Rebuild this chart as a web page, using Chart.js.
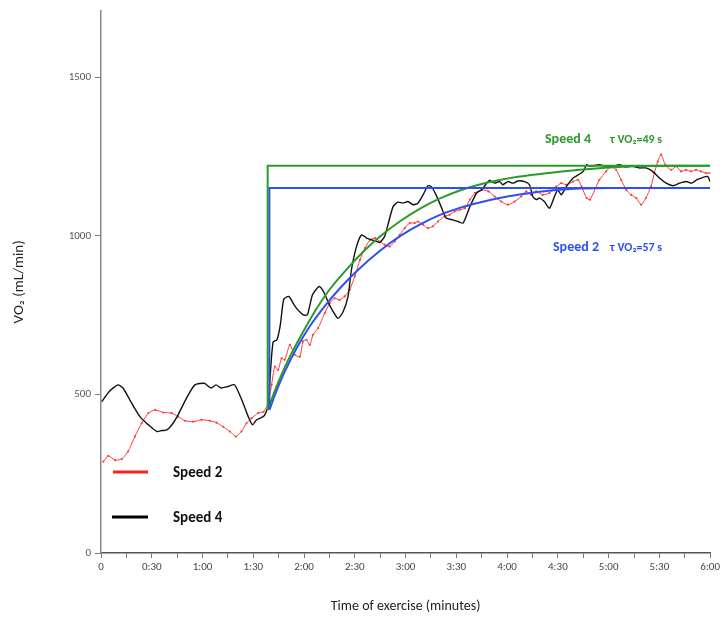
<!DOCTYPE html>
<html>
<head>
<meta charset="utf-8">
<script src="https://cdn.jsdelivr.net/npm/chart.js@4.4.1/dist/chart.umd.min.js"></script>
<style>
  html, body { margin: 0; padding: 0; background: #fff; }
  #wrap { width: 723px; height: 623px; }
</style>
</head>
<body>
<div id="wrap"><canvas id="c" width="723" height="623"></canvas></div>
<script>
// time in seconds from start of exercise
const speed2Time = [1.4, 4.3, 8.3, 12.2, 16, 20, 24, 28, 32, 36.8, 41.7, 45.6, 49.6, 54.5, 59.4, 64.3, 68.3, 72.2, 76.2, 79.7, 83, 86, 89, 92.9, 96, 98.8, 100.8, 102.7, 104.7, 106.7, 108.6, 111.6, 114.5, 117.5, 119.4, 121.4, 123.4, 125.3, 128.3, 132.2, 135.2, 138.1, 141, 144, 147, 150, 153, 156, 159, 162, 164.7, 167.6, 170.6, 173.6, 176.5, 179.5, 182.4, 185.4, 187.3, 190.3, 193.2, 196.2, 199.1, 203, 206, 209, 212, 215, 218, 221, 225, 229, 232.6, 236.5, 240.4, 244.4, 248.3, 251.3, 254.2, 257.2, 261, 265, 269, 272, 275, 279, 282, 284, 287, 289, 294.5, 298.5, 301.5, 304.4, 307.4, 310.4, 313.3, 316.3, 319.2, 322, 325, 327, 329, 331, 333.5, 337, 340, 342.8, 345.8, 348.7, 351.6, 354.6, 357.5, 360]
const speed2VO2 = [288, 306, 293, 296, 320, 367, 409, 441, 451, 443, 441, 430, 417, 414, 420, 417, 411, 398, 383, 367, 383, 409, 425, 441, 445, 472, 530, 588, 577, 614, 609, 656, 625, 619, 667, 672, 656, 688, 709, 756, 788, 803, 798, 809, 830, 872, 924, 961, 987, 993, 982, 972, 966, 982, 1003, 1024, 1040, 1040, 1045, 1035, 1024, 1030, 1045, 1061, 1066, 1077, 1082, 1087, 1114, 1135, 1145, 1140, 1124, 1108, 1098, 1108, 1124, 1140, 1129, 1140, 1129, 1135, 1155, 1166, 1161, 1171, 1176, 1155, 1119, 1114, 1176, 1203, 1219, 1208, 1176, 1145, 1129, 1119, 1098, 1119, 1155, 1198, 1234, 1256, 1224, 1208, 1219, 1203, 1208, 1203, 1208, 1203, 1198, 1198]

const speed4Time = [0.4, 5, 10, 13, 17, 20, 23, 28, 33, 36, 39, 42, 45, 51, 55.5, 61, 65, 68, 71, 75, 79, 84, 87, 89.5, 92, 96, 98, 99, 100, 101.7, 104, 106, 108, 111, 115, 119.5, 122, 125, 129, 132, 135, 140, 143, 146, 148, 151, 154, 157, 160, 163, 164.7, 167.6, 169.6, 172.6, 175.5, 178.5, 181.4, 184.4, 187.3, 190.3, 193.2, 195.2, 198, 201, 204, 208, 211, 214, 218, 222, 225, 228, 229.6, 232.6, 235.5, 237.5, 240.4, 243.4, 246.3, 250.3, 253.2, 255.2, 257.2, 259.2, 262, 265, 268, 270, 272, 275, 279, 282, 285, 287, 289, 294.5, 298.5, 302.4, 306.4, 310, 314, 318, 322, 326, 330, 334, 338, 342, 346, 349, 352, 354.6, 358.5, 360]
const speed4VO2 = [477, 510, 530, 520, 483, 455, 430, 404, 383, 386, 388, 405, 430, 493, 530, 535, 520, 530, 520, 525, 530, 472, 430, 404, 420, 430, 450, 470, 560, 665, 672, 720, 800, 809, 775, 751, 751, 814, 840, 819, 782, 740, 760, 809, 893, 966, 1003, 993, 987, 982, 979, 998, 1035, 1092, 1106, 1103, 1108, 1098, 1103, 1129, 1158, 1155, 1129, 1092, 1056, 1050, 1045, 1040, 1092, 1135, 1145, 1166, 1175, 1166, 1171, 1161, 1171, 1166, 1173, 1171, 1161, 1124, 1114, 1119, 1108, 1087, 1124, 1145, 1129, 1155, 1182, 1192, 1203, 1224, 1219, 1224, 1219, 1219, 1224, 1217, 1219, 1214, 1214, 1203, 1182, 1166, 1158, 1166, 1171, 1166, 1176, 1182, 1187, 1171]

// fitted mono-exponential curves as drawn
const fit4Time = [98.5, 103, 109.6, 119.4, 127, 135, 147, 156, 164.7, 176.5, 188.3, 200, 212, 223.8, 235.5, 247.3, 259.2, 271, 283, 294.5, 306, 320, 340, 360]
const fit4VO2 = [451, 515, 597, 697, 767, 830, 905, 955, 997, 1045, 1085, 1117, 1143, 1162, 1176, 1187, 1195, 1202, 1208, 1213, 1217, 1220, 1221, 1221]
const fit2Time = [99.5, 104, 108.6, 115.5, 123.4, 133.2, 143, 152, 164.7, 176.5, 188.3, 200, 212, 223.8, 235.5, 247.3, 259.2, 271, 283, 300, 330, 360]
const fit2VO2 = [451, 515, 572, 645, 715, 785, 845, 893, 952, 998, 1035, 1065, 1088, 1105, 1119, 1130, 1139, 1145, 1149, 1151, 1151, 1151]

// step (steady-state amplitude) lines
const step4Time = [98.5, 98.5, 360]
const step4VO2 = [451, 1221, 1221]
const step2Time = [99.5, 99.5, 360]
const step2VO2 = [451, 1151, 1151]

const yTicks = [0, 500, 1000, 1500]
const xTicks = [0, 15, 30, 45, 60, 75, 90, 105, 120, 135, 150, 165, 180, 195, 210, 225, 240, 255, 270, 285, 300, 315, 330, 345, 360]
const xLabelTimes = [0, 30, 60, 90, 120, 150, 180, 210, 240, 270, 300, 330, 360]
const xLabels = ["0", "0:30", "1:00", "1:30", "2:00", "2:30", "3:00", "3:30", "4:00", "4:30", "5:00", "5:30", "6:00"]

const pts = (xs, ys) => xs.map((x, i) => ({ x, y: ys[i] }))
const FONT = "Carlito, Lato, 'Open Sans', sans-serif"
const GREEN = "#2b9a2b"
const BLUE = "#2f4ff5"

const overlay = {
  id: "overlay",
  afterDatasetsDraw(chart) {
    const ctx = chart.ctx
    ctx.save()
    ctx.textBaseline = "middle"
    // legend
    ctx.lineWidth = 3
    ctx.strokeStyle = "#ff2020"
    ctx.beginPath(); ctx.moveTo(113, 472); ctx.lineTo(148, 472); ctx.stroke()
    ctx.strokeStyle = "#000"
    ctx.beginPath(); ctx.moveTo(112, 517); ctx.lineTo(148, 517); ctx.stroke()
    ctx.fillStyle = "#111"
    ctx.font = "bold 15px " + FONT
    ctx.fillText("Speed 2", 173, 473)
    ctx.fillText("Speed 4", 173, 518)
    // tau annotations
    ctx.fillStyle = GREEN
    ctx.font = "bold 14px " + FONT
    ctx.fillText("Speed 4", 545, 139)
    ctx.font = "bold 12px " + FONT
    ctx.fillText("τ VO₂=49 s", 610, 140)
    ctx.fillStyle = BLUE
    ctx.font = "bold 14px " + FONT
    ctx.fillText("Speed 2", 553, 247)
    ctx.font = "bold 12px " + FONT
    ctx.fillText("τ VO₂=57 s", 610, 248)
    ctx.restore()
  }
}

new Chart(document.getElementById("c"), {
  type: "line",
  data: {
    datasets: [
      { label: "step4", data: pts(step4Time, step4VO2), borderColor: GREEN, borderWidth: 2, pointRadius: 0, tension: 0 },
      { label: "step2", data: pts(step2Time, step2VO2), borderColor: BLUE, borderWidth: 2, pointRadius: 0, tension: 0 },
      { label: "fit4", data: pts(fit4Time, fit4VO2), borderColor: GREEN, borderWidth: 2, pointRadius: 0, cubicInterpolationMode: "monotone" },
      { label: "fit2", data: pts(fit2Time, fit2VO2), borderColor: BLUE, borderWidth: 2, pointRadius: 0, cubicInterpolationMode: "monotone" },
      { label: "Speed 4", data: pts(speed4Time, speed4VO2), borderColor: "#111", borderWidth: 1.4, pointRadius: 0, tension: 0.2 },
      { label: "Speed 2", data: pts(speed2Time, speed2VO2), borderColor: "#ff3b3b", backgroundColor: "#ff3b3b", borderWidth: 1, pointRadius: 1.1, pointBorderWidth: 0, tension: 0.2 }
    ]
  },
  options: {
    responsive: false,
    animation: false,
    layout: { padding: { top: 10, right: 12, left: 0, bottom: 0 } },
    plugins: { legend: { display: false }, tooltip: { enabled: false } },
    scales: {
      x: {
        type: "linear",
        min: 0,
        max: 360,
        afterBuildTicks: (s) => { s.ticks = xTicks.map(v => ({ value: v })) },
        afterFit: (s) => { s.height = 70 },
        ticks: {
          autoSkip: false,
          maxRotation: 0,
          padding: 3,
          color: "#444",
          font: { family: FONT, size: 11 },
          callback: (v) => {
            const i = xLabelTimes.indexOf(v)
            return i >= 0 ? xLabels[i] : ""
          }
        },
        grid: { drawOnChartArea: false, tickLength: 5, color: "#777" },
        border: { color: "#555", width: 1.5 },
        title: { display: true, text: "Time of exercise (minutes)", color: "#222", font: { family: FONT, size: 14 }, padding: { top: 0, bottom: 8 } }
      },
      y: {
        min: 0,
        max: 1710,
        afterBuildTicks: (s) => { s.ticks = yTicks.map(v => ({ value: v })) },
        afterFit: (s) => { s.width = 101 },
        ticks: { color: "#555", padding: 4, font: { family: FONT, size: 11 }, callback: (v) => String(v) },
        grid: { drawOnChartArea: false, tickLength: 6, color: "#777" },
        border: { color: "#888", width: 1.5 },
        title: { display: true, text: "VO₂ (mL/min)", color: "#222", font: { family: FONT, size: 15 }, padding: { top: 10, bottom: 0 } }
      }
    }
  },
  plugins: [overlay]
})
</script>
</body>
</html>
